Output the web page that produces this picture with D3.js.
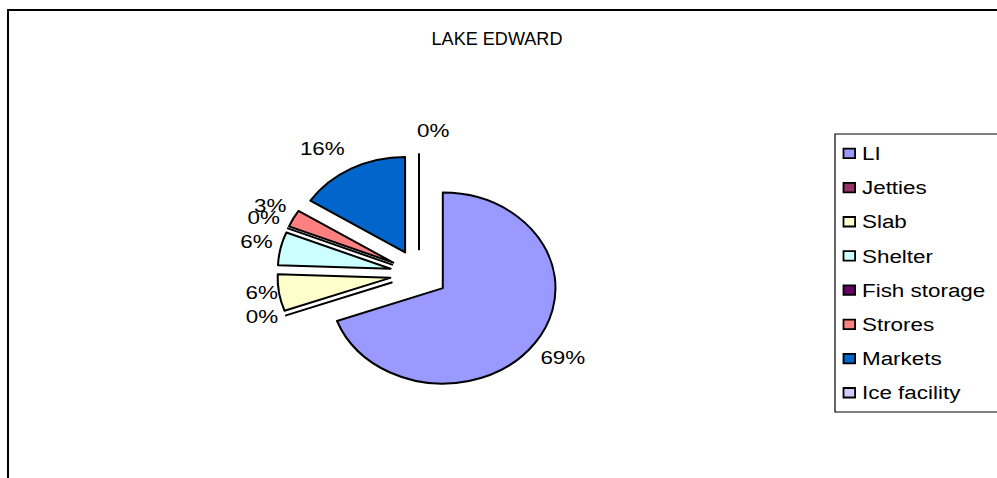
<!DOCTYPE html>
<html>
<head>
<meta charset="utf-8">
<script src="https://cdn.jsdelivr.net/npm/d3@7"></script>
<style>
  html, body { margin: 0; padding: 0; background: #fff; }
  svg { display: block; }
  text { font-family: "Liberation Sans", Arial, sans-serif; fill: #000; }
</style>
</head>
<body>
<svg id="chart" width="997" height="478"></svg>
<script>
// ---- data ----
const title = "LAKE EDWARD";
const categories = ["LI", "Jetties", "Slab", "Shelter", "Fish storage", "Strores", "Markets", "Ice facility"];
const values = [69.4, 0, 6.2, 5.6, 0, 2.9, 15.9, 0];
const colors = ["#9999FF", "#993366", "#FFFFCC", "#CCFFFF", "#660066", "#FF8080", "#0066CC", "#CCCCFF"];
// small label nudges (logical px) mimicking Excel's label placement
const labelNudge = [[3, 0], [3, -8], [10, -5], [4, -2], [2.5, -2], [2.5, -2], [-12.5, 1.5], [12, 1]];

// ---- layout ----
const W = 997, H = 478;
const SX = 1.18;               // picture is horizontally stretched
const svg = d3.select("#chart");
const root = svg.append("g").attr("transform", `scale(${SX},1)`);

// chart frame
root.append("rect")
  .attr("x", 8 / SX).attr("y", 10)
  .attr("width", (W + 20) / SX).attr("height", H + 20)
  .attr("fill", "none").attr("stroke", "#000").attr("stroke-width", 2)
  .attr("vector-effect", "non-scaling-stroke");

// title
root.append("text")
  .attr("x", 497 / SX).attr("y", 45)
  .attr("text-anchor", "middle")
  .attr("font-size", 18)
  .attr("textLength", 111).attr("lengthAdjust", "spacingAndGlyphs")
  .text(title);

// pie
const cx = 419 / SX, cy = 274, r = 95.5, explode = 24.6, labelR = 145;
const total = d3.sum(values);
const pct = d3.format(".0%");
const pie = d3.pie().sort(null).value(d => d)(values);
const arc = d3.arc().innerRadius(0).outerRadius(r);

const pg = root.append("g").attr("transform", `translate(${cx},${cy})`);
pg.selectAll("path.slice")
  .data(pie)
  .join("path")
  .attr("class", "slice")
  .attr("d", arc)
  .attr("transform", d => {
    const m = (d.startAngle + d.endAngle) / 2;
    return `translate(${explode * Math.sin(m)},${-explode * Math.cos(m)})`;
  })
  .attr("fill", (d, i) => colors[i])
  .attr("stroke", "#000")
  .attr("stroke-width", 2)
  .attr("stroke-linejoin", "round")
  .attr("vector-effect", "non-scaling-stroke");

pg.selectAll("text.lab")
  .data(pie)
  .join("text")
  .attr("class", "lab")
  .attr("x", (d, i) => labelR * Math.sin((d.startAngle + d.endAngle) / 2) + labelNudge[i][0])
  .attr("y", (d, i) => -labelR * Math.cos((d.startAngle + d.endAngle) / 2) + labelNudge[i][1])
  .attr("text-anchor", "middle")
  .attr("dominant-baseline", "central")
  .attr("font-size", 19)
  .text(d => pct(d.value / total));

// legend
const lx = 835 / SX, ly = 134, lh = 278, rowH = 34.2;
const lg = root.append("g");
lg.append("rect")
  .attr("x", lx).attr("y", ly)
  .attr("width", (W + 20 - 835) / SX).attr("height", lh)
  .attr("fill", "#fff").attr("stroke", "#000").attr("stroke-width", 1.2)
  .attr("vector-effect", "non-scaling-stroke");

const yRow = d3.scaleBand().domain(categories).range([ly + 2, ly + 2 + rowH * categories.length]);
const items = lg.selectAll("g.item").data(categories).join("g").attr("class", "item")
  .attr("transform", d => `translate(0,${yRow(d) + yRow.bandwidth() / 2})`);
items.append("rect")
  .attr("x", 843.5 / SX).attr("y", -4.5)
  .attr("width", 11 / SX + 0.5).attr("height", 9.5)
  .attr("fill", (d, i) => colors[i])
  .attr("stroke", "#000").attr("stroke-width", 1.8)
  .attr("vector-effect", "non-scaling-stroke");
items.append("text")
  .attr("x", 862 / SX).attr("y", 0)
  .attr("dominant-baseline", "central")
  .attr("font-size", 19)
  .text(d => d);
</script>
</body>
</html>
